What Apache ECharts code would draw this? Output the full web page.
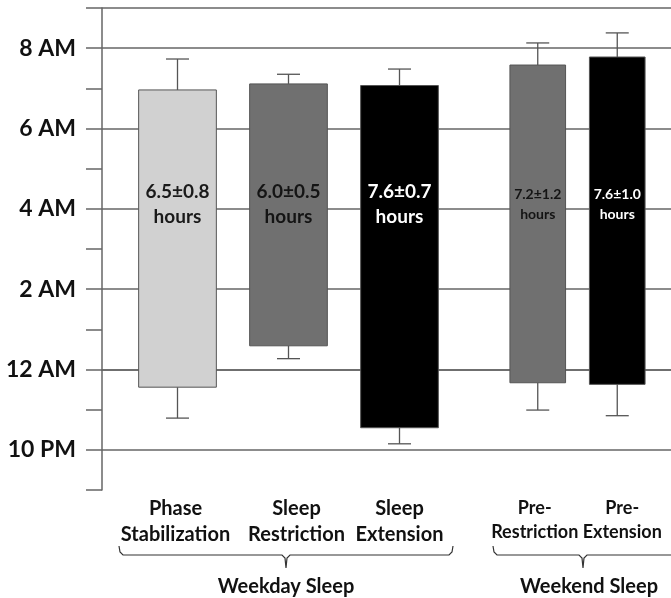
<!DOCTYPE html>
<html>
<head>
<meta charset="utf-8">
<script src="https://cdn.jsdelivr.net/npm/echarts@6/dist/echarts.min.js"></script>
<style>
html, body { margin: 0; padding: 0; background: #fff; }
#chart { width: 671px; height: 598px; }
</style>
</head>
<body>
<div id="chart"></div>
<script>
// times are hours relative to midnight (negative = evening before)
const hourTicks = [-3, -2, -1, 0, 1, 2, 3, 4, 5, 6, 7, 8, 9];

const weekdayCats = ['Phase\nStabilization', 'Sleep\nRestriction', 'Sleep\nExtension'];
const weekdayBed = [-0.44, 0.59, -1.45];
const weekdayWake = [6.96, 7.11, 7.07];
const weekdayBedSD = [0.77, 0.32, 0.40];
const weekdayWakeSD = [0.77, 0.24, 0.41];
const weekdayDur = ['6.5±0.8', '6.0±0.5', '7.6±0.7'];

const weekendCats = ['Pre-\nRestriction', 'Pre-\nExtension'];
const weekendBed = [-0.33, -0.37];
const weekendWake = [7.58, 7.78];
const weekendBedSD = [0.68, 0.78];
const weekendWakeSD = [0.55, 0.60];
const weekendDur = ['7.2±1.2', '7.6±1.0'];

const groupNames = ['Weekday Sleep', 'Weekend Sleep'];

// styles
const weekdayFill = ['#d1d1d1', '#707070', '#000000'];
const weekdayText = ['#1a1a1a', '#141414', '#ffffff'];
const weekendFill = ['#707070', '#000000'];
const weekendText = ['#141414', '#ffffff'];
const weekdayPad = [[0, 4, 0, 0], [0, 0, 0, 16], [0, 0, 0, 0]];
const weekendPad = [[0, 6, 0, 0], [0, 0, 0, 10]];
const lineCol = '#666';
const FONT = 'Lato, "Open Sans", sans-serif';

const TOP = 8, BOTTOM = 108;
const G1_LEFT = 122, G1_W = 333;
const G2_LEFT = 498, G2_W = 159;

function toData(bed, wake, bedSD, wakeSD) {
    return bed.map((b, i) => [i, b, wake[i], bedSD[i], wakeSD[i]]);
}

function hourLabel(v) {
    if (v % 2 !== 0) return '';
    if (v < 0) return (12 + v) + ' PM';
    if (v === 0) return '12 AM';
    return v + ' AM';
}

function rangeItem(fills, textCols, labels, fontSize, lineH) {
    return function (params, api) {
        const i = api.value(0);
        const bed = api.value(1), wake = api.value(2);
        const top = api.coord([i, wake]);
        const bot = api.coord([i, bed]);
        const eTop = api.coord([i, wake + api.value(4)]);
        const eBot = api.coord([i, bed - api.value(3)]);
        const w = api.size([1, 0])[0] * 0.7;
        const x = top[0];
        const lab = api.coord([i, 4.12]);
        const err = {stroke: '#555', lineWidth: 1.3};
        const k = params.dataIndex;
        return {
            type: 'group',
            children: [
                {type: 'line', shape: {x1: x, y1: top[1], x2: x, y2: eTop[1]}, style: err},
                {type: 'line', shape: {x1: x - 11.5, y1: eTop[1], x2: x + 11.5, y2: eTop[1]}, style: err},
                {type: 'line', shape: {x1: x, y1: bot[1], x2: x, y2: eBot[1]}, style: err},
                {type: 'line', shape: {x1: x - 11.5, y1: eBot[1], x2: x + 11.5, y2: eBot[1]}, style: err},
                {type: 'rect', shape: {x: x - w / 2, y: top[1], width: w, height: bot[1] - top[1]},
                    style: {fill: fills[k], stroke: '#555', lineWidth: 1}},
                {type: 'text', style: {
                    text: labels[k] + '\nhours', x: x, y: lab[1],
                    align: 'center', verticalAlign: 'middle',
                    fill: textCols[k], font: 'bold ' + fontSize + 'px ' + FONT, lineHeight: lineH
                }}
            ]
        };
    };
}

const chart = echarts.init(document.getElementById('chart'));

const hiddenY = (idx) => ({
    type: 'value', gridIndex: idx, min: -3, max: 9, interval: 1, show: false
});
const catX = (idx, cats, pads, size, lh) => ({
    type: 'category', gridIndex: idx,
    data: cats.map((c, i) => ({value: c, textStyle: {padding: pads[i]}})),
    axisLine: {show: false}, axisTick: {show: false},
    axisLabel: {
        margin: 6, color: '#111', fontFamily: FONT, fontWeight: 'bold',
        fontSize: size, lineHeight: lh, interval: 0
    }
});

chart.setOption({
    animation: false,
    grid: [
        {left: 102, right: 0, top: TOP, bottom: BOTTOM},
        {left: G1_LEFT, width: G1_W, top: TOP, bottom: BOTTOM},
        {left: G2_LEFT, width: G2_W, top: TOP, bottom: BOTTOM}
    ],
    xAxis: [
        {
            type: 'category', gridIndex: 0, data: [''],
            axisLine: {show: true, lineStyle: {color: lineCol, width: 1.5}},
            axisTick: {show: false}, axisLabel: {show: false}
        },
        catX(1, weekdayCats, weekdayPad, 20, 26),
        catX(2, weekendCats, weekendPad, 18, 24)
    ],
    yAxis: [
        {
            type: 'value', gridIndex: 0, min: hourTicks[0], max: hourTicks[hourTicks.length - 1], interval: 1,
            axisLine: {show: true, lineStyle: {color: lineCol, width: 1.5}},
            axisTick: {show: true, length: 16, lineStyle: {color: lineCol, width: 1.5}},
            axisLabel: {
                margin: 26, formatter: hourLabel, color: '#111',
                fontFamily: FONT, fontWeight: 'bold', fontSize: 23
            },
            splitLine: {
                show: true,
                lineStyle: {
                    width: 1.5,
                    color: hourTicks.map(h => (h % 2 === 0 || h === 9) ? lineCol : 'rgba(0,0,0,0)')
                }
            }
        },
        hiddenY(1),
        hiddenY(2)
    ],
    series: [
        {
            type: 'custom', xAxisIndex: 1, yAxisIndex: 1,
            data: toData(weekdayBed, weekdayWake, weekdayBedSD, weekdayWakeSD),
            renderItem: rangeItem(weekdayFill, weekdayText, weekdayDur, 19, 25)
        },
        {
            type: 'custom', xAxisIndex: 2, yAxisIndex: 2,
            data: toData(weekendBed, weekendWake, weekendBedSD, weekendWakeSD),
            renderItem: rangeItem(weekendFill, weekendText, weekendDur, 14, 20)
        }
    ],
    graphic: [
        {
            type: 'polyline', silent: true,
            shape: {points: [[119, 546], [120, 552], [123, 555], [282, 555], [285, 558], [286, 568],
                [287, 558], [290, 555], [449, 555], [452, 552], [453, 546]]},
            style: {fill: null, stroke: '#333', lineWidth: 1.2}
        },
        {
            type: 'polyline', silent: true,
            shape: {points: [[493, 546], [494, 552], [497, 555], [579, 555], [582, 558], [583, 568],
                [584, 558], [587, 555], [675, 555]]},
            style: {fill: null, stroke: '#333', lineWidth: 1.2}
        },
        {
            type: 'text', x: 286, y: 587,
            style: {text: groupNames[0], align: 'center', verticalAlign: 'middle',
                font: 'bold 20px ' + FONT, fill: '#111'}
        },
        {
            type: 'text', x: 589, y: 587,
            style: {text: groupNames[1], align: 'center', verticalAlign: 'middle',
                font: 'bold 20px ' + FONT, fill: '#111'}
        }
    ]
});
</script>
</body>
</html>
